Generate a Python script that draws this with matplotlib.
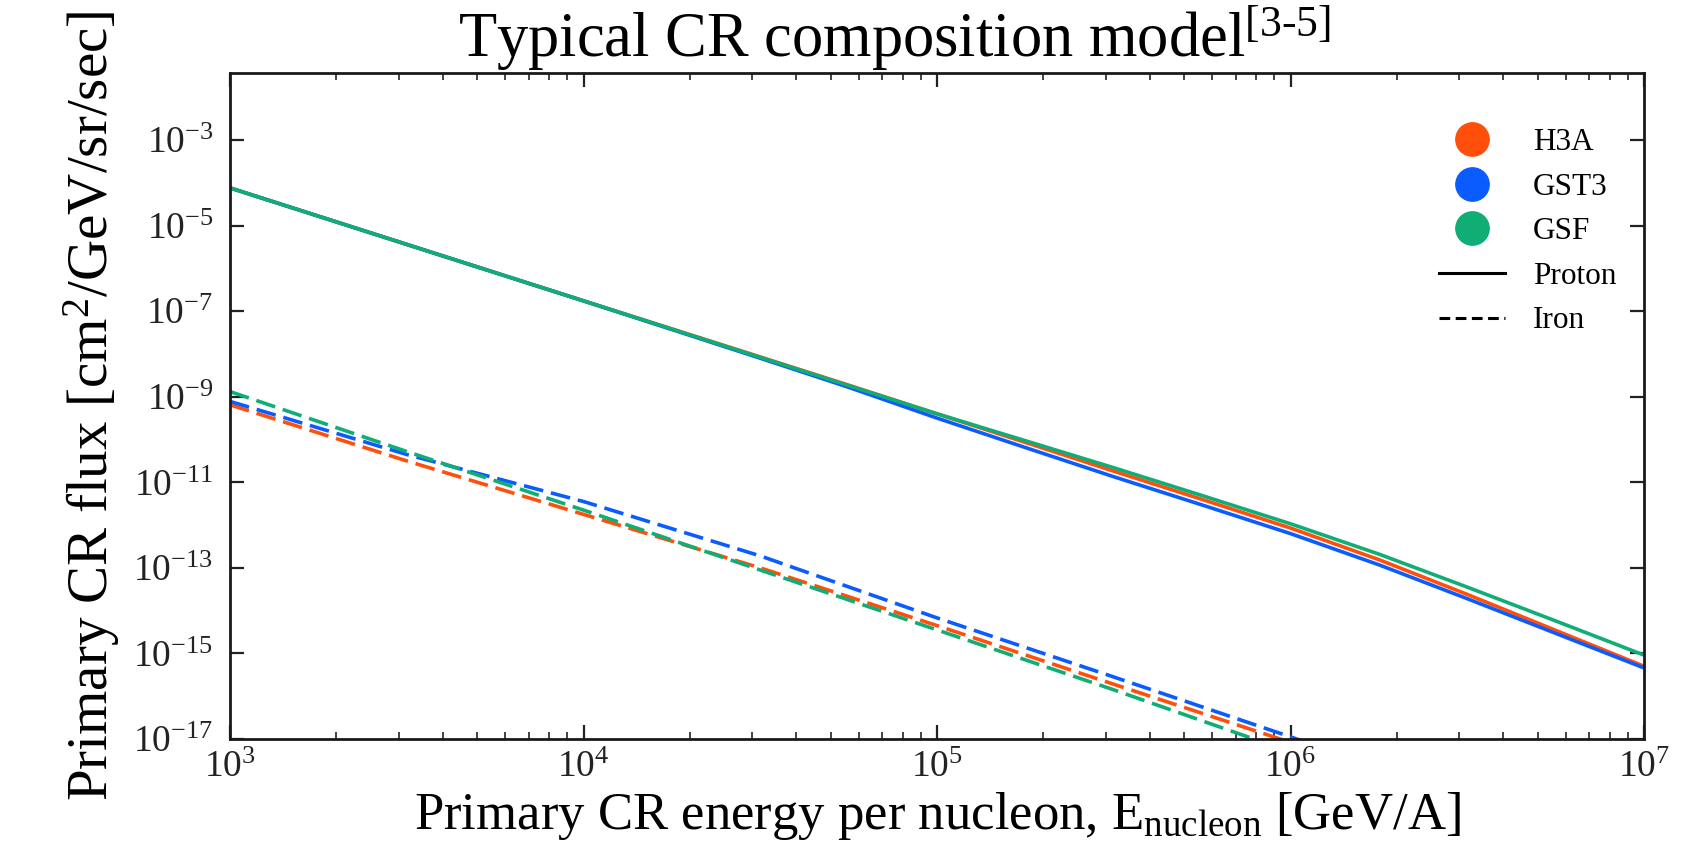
import matplotlib
matplotlib.use("Agg")
import matplotlib.pyplot as plt
from matplotlib.lines import Line2D
from matplotlib.ticker import FixedLocator, LogLocator, NullLocator, NullFormatter

plt.rcParams["font.family"] = ["Liberation Serif", "DejaVu Serif"]
plt.rcParams["mathtext.fontset"] = "custom"
plt.rcParams["mathtext.rm"] = "Liberation Serif"
plt.rcParams["mathtext.it"] = "Liberation Serif:italic"
plt.rcParams["mathtext.bf"] = "Liberation Serif:bold"

MODELS = ["H3A", "GST3", "GSF"]
MODEL_COLORS = {"H3A": "#ff4f0a", "GST3": "#0a5cff", "GSF": "#10ad75"}

# energy per nucleon [GeV/A]
ENERGY_P = [1e3, 3.16e3, 1e4, 3.16e4, 5.62e4, 1e5, 1.78e5, 3.16e5, 5.62e5,
            1e6, 1.78e6, 3.16e6, 5.62e6, 1e7]
ENERGY_FE = [1e3, 3.16e3, 1e4, 3.16e4, 1e5, 3.16e5, 1e6, 3.16e6]

# log10 flux, proton
PROTON_LOG = {
    "H3A": [-4.12, -5.44, -6.76, -8.07, -8.73, -9.40, -10.07, -10.74, -11.40,
            -12.07, -12.81, -13.62, -14.46, -15.30],
    "GST3": [-4.12, -5.44, -6.76, -8.10, -8.78, -9.50, -10.19, -10.87, -11.53,
             -12.20, -12.93, -13.72, -14.53, -15.34],
    "GSF": [-4.12, -5.44, -6.76, -8.08, -8.74, -9.40, -10.03, -10.66, -11.31,
            -11.97, -12.68, -13.45, -14.24, -15.04],
}

# log10 flux, iron (runs off the bottom near 1e6)
IRON_LOG = {
    "H3A": [-9.19, -10.50, -11.75, -13.00, -14.35, -15.72, -17.08, -18.5],
    "GST3": [-9.11, -10.35, -11.45, -12.72, -14.17, -15.55, -16.95, -18.4],
    "GSF": [-8.88, -10.28, -11.65, -13.05, -14.45, -15.85, -17.30, -18.7],
}

fig = plt.figure(figsize=(16.9, 8.58), dpi=100)
ax = fig.add_axes([0.1361, 0.1387, 0.9728 - 0.1361, 0.9149 - 0.1387])

for model in MODELS:
    c = MODEL_COLORS[model]
    ax.plot(ENERGY_P, [10 ** v for v in PROTON_LOG[model]], color=c, lw=2.6, solid_capstyle="butt")
for model in MODELS:
    c = MODEL_COLORS[model]
    ax.plot(ENERGY_FE, [10 ** v for v in IRON_LOG[model]], color=c, lw=2.6,
            linestyle=(0, (5.5, 2.2)), dash_capstyle="butt")

ax.set_xscale("log")
ax.set_yscale("log")
ax.set_xlim(1e3, 1e7)
ax.set_ylim(1e-17, 10 ** -1.435)

ax.yaxis.set_major_locator(FixedLocator([10.0 ** k for k in range(-17, -2, 2)]))
ax.yaxis.set_minor_locator(NullLocator())
ax.xaxis.set_major_locator(LogLocator(base=10))
ax.xaxis.set_minor_locator(LogLocator(base=10, subs=range(2, 10)))
ax.xaxis.set_minor_formatter(NullFormatter())

ax.tick_params(which="both", direction="in", top=True, right=True, colors="#222222",
               labelsize=27)
ax.tick_params(axis="y", pad=12)
ax.tick_params(axis="x", pad=8)
ax.tick_params(which="major", length=10, width=1.6)
ax.tick_params(which="minor", length=5, width=1.2)
for sp in ax.spines.values():
    sp.set_linewidth(2.0)
    sp.set_color("#1a1a1a")

ax.set_title(r"Typical CR composition model$^{[3\text{-}5]}$", fontsize=45, pad=6, x=0.47)
ax.set_xlabel(r"Primary CR energy per nucleon, E$_{\rm nucleon}$ [GeV/A]", fontsize=38, labelpad=4)
ax.set_ylabel(r"Primary CR flux [cm$^2$/GeV/sr/sec]", fontsize=41, labelpad=8)

handles = [Line2D([], [], marker="o", linestyle="none", markersize=24,
                  color=MODEL_COLORS[m]) for m in MODELS]
handles += [Line2D([], [], color="black", lw=2.2),
            Line2D([], [], color="black", lw=2.2, linestyle=(0, (3.5, 1.8)))]
labels = MODELS + ["Proton", "Iron"]
ax.legend(handles, labels, loc="upper right", bbox_to_anchor=(0.998, 0.955),
          frameon=False, fontsize=22.5, handlelength=2.1, labelspacing=0.5,
          handletextpad=0.9, borderaxespad=0.4)

fig.savefig("out.png", dpi=100)
